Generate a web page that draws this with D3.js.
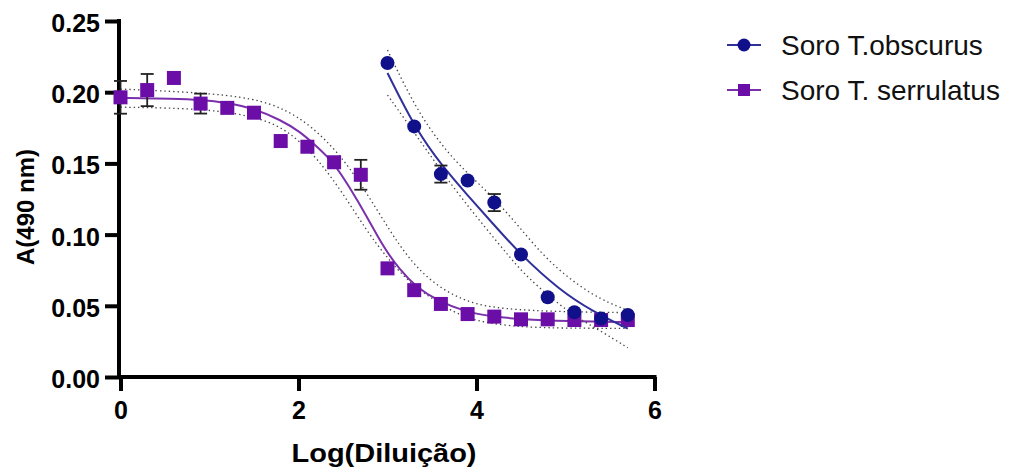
<!doctype html>
<html>
<head>
<meta charset="utf-8">
<script src="https://d3js.org/d3.v7.min.js"></script>
<style>
  body { margin: 0; background: #fff; }
  text { font-family: "Liberation Sans", Arial, sans-serif; }
  .axis text { font-weight: bold; font-size: 25px; fill: #000; }
  .axis path, .axis line { stroke: #000; stroke-width: 4; }
</style>
</head>
<body>
<svg width="1012" height="470"></svg>
<script>
// dilution steps (log10), measured absorbance and SEM
var serrX = [0, 0.3, 0.6, 0.9, 1.2, 1.5, 1.8, 2.1, 2.4, 2.7, 3.0, 3.3, 3.6, 3.9, 4.2, 4.5, 4.8, 5.1, 5.4, 5.7];
var serrY = [0.1964, 0.2015, 0.210, 0.192, 0.189, 0.1856, 0.1657, 0.1617, 0.1508, 0.142, 0.0763, 0.061, 0.0513, 0.0442, 0.0424, 0.0405, 0.0405, 0.040, 0.040, 0.040];
var serrErr = [0.0115, 0.0113, 0, 0.007, 0, 0, 0, 0, 0, 0.0105, 0, 0, 0, 0, 0, 0, 0, 0, 0, 0];

var obsX = [3.0, 3.3, 3.6, 3.9, 4.2, 4.5, 4.8, 5.1, 5.4, 5.7];
var obsY = [0.2205, 0.176, 0.1425, 0.138, 0.1225, 0.086, 0.056, 0.0455, 0.041, 0.0435];
var obsErr = [0, 0, 0.006, 0, 0.006, 0, 0, 0, 0, 0];

// fitted curves and 95% bands as [x, y]
var serrFit = [[0, 0.196], [0.6, 0.1955], [0.9, 0.1948], [1.2, 0.1925], [1.5, 0.1885], [1.8, 0.1805], [2.016, 0.1723], [2.185, 0.163], [2.39, 0.1512], [2.57, 0.1336], [2.77, 0.1126], [2.95, 0.0915], [3.14, 0.0751], [3.32, 0.0634], [3.55, 0.054], [3.88, 0.0455], [4.18, 0.0425], [4.5, 0.0405], [5.0, 0.0392], [5.7, 0.0385]];
var serrUp = [[0, 0.2022], [0.9, 0.1998], [1.5, 0.1958], [1.85, 0.188], [2.13, 0.177], [2.46, 0.157], [2.76, 0.130], [3.02, 0.1032], [3.25, 0.0822], [3.51, 0.0658], [3.85, 0.0535], [4.18, 0.0485], [4.75, 0.046], [5.7, 0.0452]];
var serrLo = [[0, 0.1895], [1.0, 0.1885], [1.6, 0.1817], [1.9, 0.172], [2.2, 0.1547], [2.5, 0.129], [2.76, 0.1032], [2.985, 0.0845], [3.25, 0.0658], [3.55, 0.0529], [3.88, 0.0405], [4.37, 0.0355], [4.93, 0.0342], [5.7, 0.0342]];

var obsFit = [[3.0, 0.2135], [3.32, 0.1735], [3.62, 0.1477], [3.88, 0.129], [4.18, 0.108], [4.48, 0.0869], [4.93, 0.0611], [5.31, 0.0459], [5.7, 0.034]];
var obsUp = [[3.0, 0.2296], [3.36, 0.1828], [3.77, 0.150], [4.15, 0.129], [4.48, 0.1055], [4.82, 0.0798], [5.31, 0.0564], [5.7, 0.0468]];
var obsLo = [[3.0, 0.198], [3.36, 0.1664], [3.73, 0.1336], [4.11, 0.104], [4.37, 0.0845], [4.56, 0.0704], [5.04, 0.0447], [5.38, 0.033], [5.7, 0.0205]];

var xTicks = [0, 2, 4, 6];
var yTicks = [0, 0.05, 0.10, 0.15, 0.20, 0.25];
var seriesNames = ["Soro T.obscurus", "Soro T. serrulatus"];

var obsColor = "#10108a", obsLine = "#30309a";
var serrColor = "#6b0ea8", serrLine = "#7a30aa";

var svg = d3.select("svg");
var x = d3.scaleLinear().domain([0, 6]).range([120.5, 654.5]);
var y = d3.scaleLinear().domain([0, 0.25]).range([377, 21]);

// axes
svg.append("g")
    .attr("class", "axis")
    .attr("transform", "translate(0,377)")
    .call(d3.axisBottom(x).tickValues(xTicks).tickSize(14).tickSizeOuter(0).tickPadding(10).tickFormat(d3.format("d")))
    .call(function(g) { g.select(".domain").attr("d", "M117,0H656.5"); });

svg.append("g")
    .attr("class", "axis")
    .attr("transform", "translate(119,0)")
    .call(d3.axisLeft(y).tickValues(yTicks).tickSize(14).tickSizeOuter(0).tickPadding(5).tickFormat(d3.format(".2f")))
    .call(function(g) {
        g.select(".domain").attr("d", "M0,19V379");
        g.selectAll("text").attr("dy", "0.42em");
    });

svg.append("text")
    .attr("x", 384).attr("y", 462)
    .attr("text-anchor", "middle")
    .attr("textLength", 185).attr("lengthAdjust", "spacingAndGlyphs")
    .style("font-weight", "bold").style("font-size", "26px")
    .text("Log(Diluição)");

svg.append("text")
    .attr("transform", "translate(34,207) rotate(-90)")
    .attr("text-anchor", "middle")
    .style("font-weight", "bold").style("font-size", "24px")
    .text("A(490 nm)");

var line = d3.line()
    .x(function(d) { return x(d[0]); })
    .y(function(d) { return y(d[1]); })
    .curve(d3.curveBasis);

function drawBands(up, lo) {
    [up, lo].forEach(function(b) {
        svg.append("path").attr("d", line(b))
            .attr("fill", "none").attr("stroke", "#444")
            .attr("stroke-width", 1.3).attr("stroke-dasharray", "1.4,3");
    });
}

function drawErr(xs, ys, es) {
    var g = svg.append("g").attr("stroke", "#222").attr("stroke-width", 1.8);
    xs.forEach(function(v, i) {
        if (!es[i]) return;
        var cx = x(v), t = y(ys[i] + es[i]), b = y(ys[i] - es[i]);
        g.append("line").attr("x1", cx).attr("x2", cx).attr("y1", t).attr("y2", b);
        g.append("line").attr("x1", cx - 6.5).attr("x2", cx + 6.5).attr("y1", t).attr("y2", t);
        g.append("line").attr("x1", cx - 6.5).attr("x2", cx + 6.5).attr("y1", b).attr("y2", b);
    });
}

// serrulatus
drawBands(serrUp, serrLo);
svg.append("path").attr("d", line(serrFit))
    .attr("fill", "none").attr("stroke", serrLine).attr("stroke-width", 2);
drawErr(serrX, serrY, serrErr);
svg.append("g").selectAll("rect")
    .data(serrX)
    .enter().append("rect")
    .attr("x", function(d) { return x(d) - 7; })
    .attr("y", function(d, i) { return y(serrY[i]) - 7; })
    .attr("width", 14).attr("height", 14)
    .attr("fill", serrColor);

// obscurus
drawBands(obsUp, obsLo);
svg.append("path").attr("d", line(obsFit))
    .attr("fill", "none").attr("stroke", obsLine).attr("stroke-width", 2);
drawErr(obsX, obsY, obsErr);
svg.append("g").selectAll("circle")
    .data(obsX)
    .enter().append("circle")
    .attr("cx", function(d) { return x(d); })
    .attr("cy", function(d, i) { return y(obsY[i]); })
    .attr("r", 7)
    .attr("fill", obsColor);

// legend
var leg = svg.append("g");
[45, 90].forEach(function(ly, i) {
    leg.append("line").attr("x1", 727).attr("x2", 761).attr("y1", ly).attr("y2", ly)
        .attr("stroke", i ? serrLine : obsLine).attr("stroke-width", 2);
    if (i === 0) {
        leg.append("circle").attr("cx", 744).attr("cy", ly).attr("r", 6.5).attr("fill", obsColor);
    } else {
        leg.append("rect").attr("x", 738).attr("y", ly - 6).attr("width", 12).attr("height", 12).attr("fill", serrColor);
    }
    leg.append("text").attr("x", 781).attr("y", ly + 10)
        .style("font-size", "28px").style("fill", "#111")
        .text(seriesNames[i]);
});
</script>
</body>
</html>
